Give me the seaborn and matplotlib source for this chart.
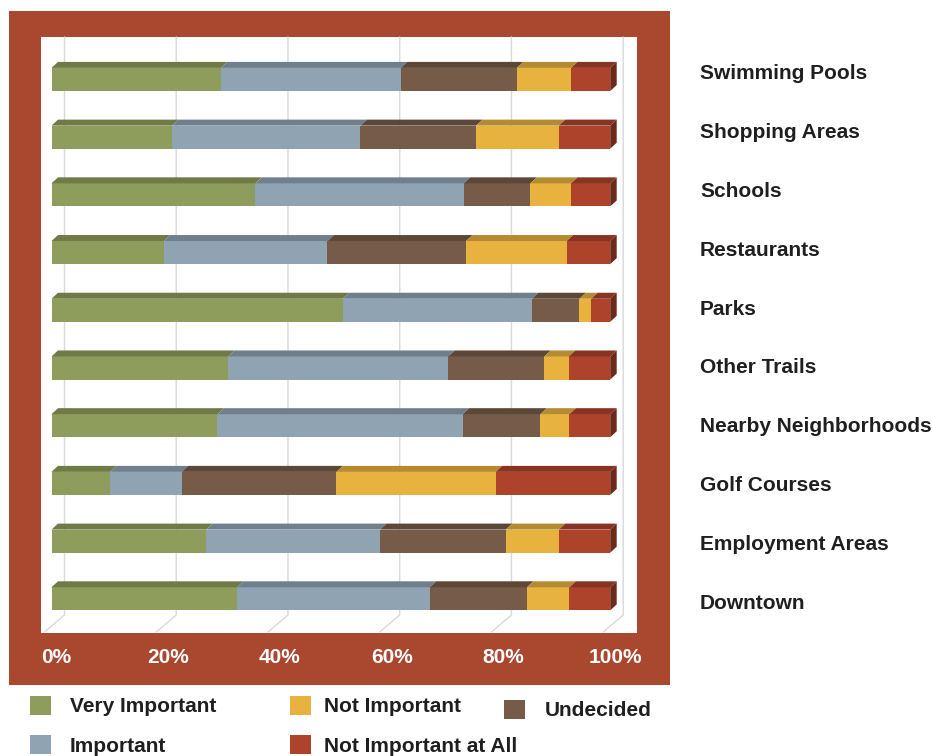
import matplotlib
matplotlib.use("Agg")
import numpy as np
import pandas as pd
import matplotlib.pyplot as plt
import seaborn as sns
from matplotlib.patches import Rectangle, Polygon
from matplotlib.lines import Line2D
from matplotlib.transforms import Affine2D, ScaledTranslation
from matplotlib.colors import to_rgb

# ---- data (percent of respondents) ----
categories = [
    "Swimming Pools", "Shopping Areas", "Schools", "Restaurants", "Parks",
    "Other Trails", "Nearby Neighborhoods", "Golf Courses",
    "Employment Areas", "Downtown",
]
very_important = [30.3, 21.6, 36.5, 20.1, 52.1, 31.6, 29.7, 10.5, 27.7, 33.2]
important = [32.2, 33.7, 37.3, 29.3, 33.9, 39.4, 43.9, 12.8, 31.1, 34.5]
undecided = [20.8, 20.7, 11.9, 24.8, 8.5, 17.2, 13.9, 27.7, 22.5, 17.4]
not_important = [9.7, 14.8, 7.3, 18.0, 2.1, 4.4, 5.2, 28.5, 9.5, 7.6]
not_important_at_all = [7.0, 9.2, 7.0, 7.8, 3.4, 7.4, 7.3, 20.5, 9.2, 7.3]

series_names = ["Very Important", "Important", "Undecided",
                "Not Important", "Not Important at All"]
series_colors = ["#8E9D5B", "#90A3B3", "#765B48", "#E8B23F", "#AE432C"]
tick_values = [0, 20, 40, 60, 80, 100]
tick_labels = ["0%", "20%", "40%", "60%", "80%", "100%"]

# ---- style ----
sns.set_style("white")
plt.rcParams["font.family"] = ["Liberation Sans", "DejaVu Sans"]
plt.rcParams["font.weight"] = "bold"

W, H = 932, 756
fig = plt.figure(figsize=(W / 100, H / 100), dpi=100)
fig.patch.set_facecolor("white")
# pixel coordinates with the origin at the top-left corner
px = Affine2D().scale(1 / W, -1 / H).translate(0, 1) + fig.transFigure

frame_color = "#A9472F"
text_color = "#1F1F1F"
fig.add_artist(Rectangle((9, 11), 661, 674, transform=px,
                         facecolor=frame_color, edgecolor="none", zorder=-3))
fig.add_artist(Rectangle((41, 37), 596, 596, transform=px,
                         facecolor="white", edgecolor="none", zorder=-2))

ax_left, ax_right, ax_top, ax_bottom = 51.5, 610.2, 50.6, 627.7
ax = fig.add_axes([ax_left / W, 1 - ax_bottom / H,
                   (ax_right - ax_left) / W, (ax_bottom - ax_top) / H])
ax.patch.set_alpha(0)

# ---- stacked bars: draw cumulative totals from the longest down ----
df = pd.DataFrame({
    "category": categories,
    "Very Important": very_important,
    "Important": important,
    "Undecided": undecided,
    "Not Important": not_important,
    "Not Important at All": not_important_at_all,
})
cum = df[series_names].cumsum(axis=1)
cum["category"] = df["category"]

bar_width = 0.4
for name, color in reversed(list(zip(series_names, series_colors))):
    sns.barplot(data=cum, x=name, y="category", color=color, saturation=1,
                width=bar_width, orient="h", errorbar=None, linewidth=0, ax=ax)

n = len(categories)
ax.set_xlim(0, 100)
ax.set_ylim(n - 0.5, -0.5)
ax.set_xlabel("")
ax.set_ylabel("")
ax.set_yticks([])
for s in ax.spines.values():
    s.set_visible(False)

# ---- bevelled top and end faces for a shallow 3-D look ----
bbox = ax.get_window_extent()
dx = 6.5 * 100 / bbox.width
dy = 6.0 * n / bbox.height


def shade(c, f):
    r, g, b = to_rgb(c)
    return (r * f, g * f, b * f)


for i in range(n):
    y_top = i - bar_width / 2
    y_bot = i + bar_width / 2
    left = 0.0
    for name, color in zip(series_names, series_colors):
        right = cum.loc[i, name]
        ax.add_patch(Polygon(
            [(left, y_top), (right, y_top), (right + dx, y_top - dy),
             (left + dx, y_top - dy)],
            closed=True, facecolor=shade(color, 0.78), edgecolor="none",
            clip_on=False, zorder=3))
        left = right
    ax.add_patch(Polygon(
        [(left, y_top), (left + dx, y_top - dy), (left + dx, y_bot - dy),
         (left, y_bot)],
        closed=True, facecolor=shade(series_colors[-1], 0.62),
        edgecolor="none", clip_on=False, zorder=3))

# ---- back-wall gridlines with a short floor edge ----
grid_offset = 13
for t in tick_values:
    x_disp = ax.transData.transform((t, 0))[0] + grid_offset
    fig.add_artist(Line2D([x_disp, x_disp, x_disp - 20], [37, 615, 632],
                          transform=px, color="#D9D9DB", lw=1.0, zorder=-1))

# ---- percentage ticks ----
ax.set_xticks(tick_values, tick_labels)
ax.tick_params(axis="x", length=0, pad=14.5, labelsize=15,
               labelcolor="white")
for lab in ax.get_xticklabels():
    lab.set_fontweight("bold")
    lab.set_transform(lab.get_transform()
                      + ScaledTranslation(5 / 100, 0, fig.dpi_scale_trans))

# ---- category names on the right ----
label_first, label_pitch = 72, 58.8
for i, cat in enumerate(categories):
    fig.text(700, label_first + i * label_pitch + 7.4, cat, transform=px,
             ha="left", va="baseline", fontsize=15, fontweight="bold",
             color=text_color)

# ---- legend in three columns ----
handles = {name: Rectangle((0, 0), 1, 1, facecolor=c, edgecolor="none")
           for name, c in zip(series_names, series_colors)}
leg_kw = dict(frameon=False, fontsize=15, handlelength=1.0,
              handleheight=1.0, labelspacing=0.9,
              borderpad=0, borderaxespad=0, loc="upper left",
              bbox_transform=px, labelcolor=text_color)
legend_columns = [
    (["Very Important", "Important"], (30, 696), 0.9),
    (["Not Important", "Not Important at All"], (290, 696), 0.65),
    (["Undecided"], (504, 700), 0.95),
]
for names, anchor, pad in legend_columns:
    leg = fig.legend([handles[k] for k in names], names,
                     bbox_to_anchor=anchor, handletextpad=pad, **leg_kw)
    for t in leg.get_texts():
        t.set_fontweight("bold")

fig.savefig("out.png", dpi=100)
